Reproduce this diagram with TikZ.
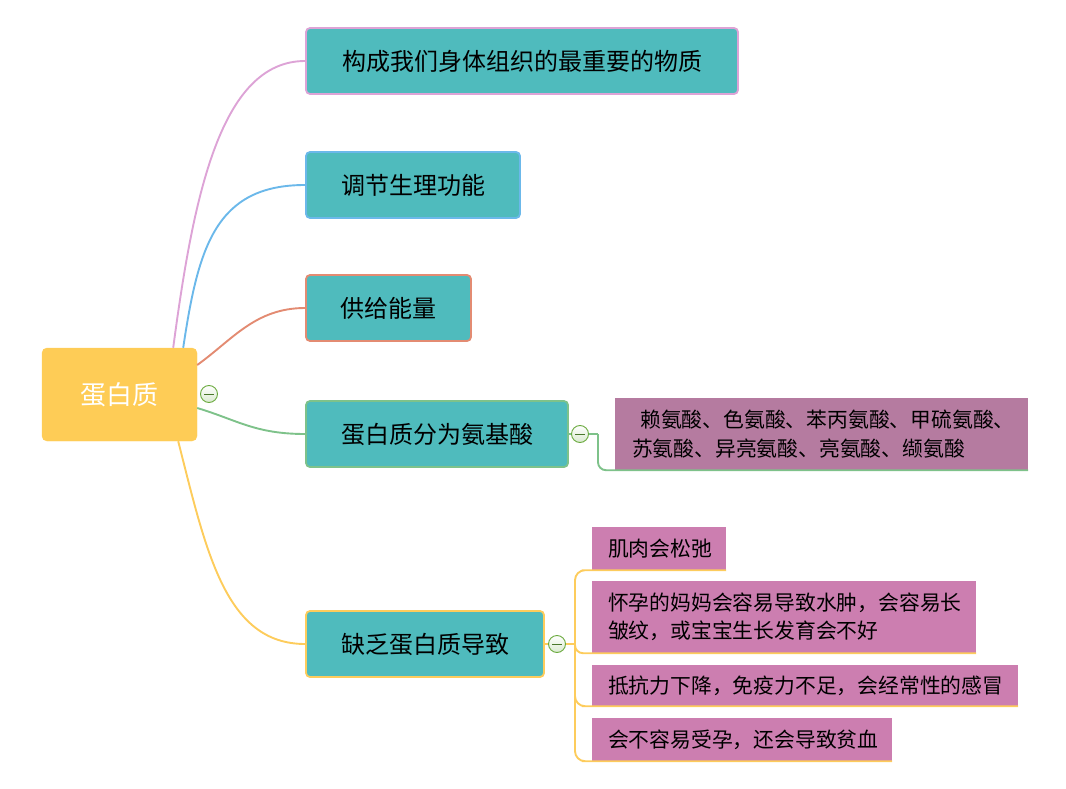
\documentclass[tikz,border=0pt]{standalone}
\usepackage{fontspec}
\newfontfamily\cjk{Noto Sans CJK SC}
\usetikzlibrary{calc}
\definecolor{rootc}{HTML}{FECC56}
\definecolor{teal}{HTML}{4FBBBD}
\definecolor{pinkl}{HTML}{DDA3D6}
\definecolor{bluel}{HTML}{6BB8EA}
\definecolor{salmonl}{HTML}{E38B72}
\definecolor{greenl}{HTML}{7EC28A}
\definecolor{yellowl}{HTML}{FDCC5C}
\definecolor{mauve}{HTML}{B57BA0}
\definecolor{subpink}{HTML}{CC7EB0}
\definecolor{kgreen}{HTML}{6AAA3E}
\tikzset{
  rootbox/.style={fill=rootc, draw=rootc, rounded corners=5pt, text=white, font=\cjk\fontsize{26}{30}\selectfont, minimum width=155pt, minimum height=93pt, inner sep=0pt},
  topic/.style={fill=teal, draw=#1, line width=1.8pt, rounded corners=4pt, text=black, font=\cjk\fontsize{24}{28}\selectfont, minimum height=66pt, inner sep=0pt},
  sub/.style={fill=subpink, draw=none, text=black, font=\cjk\fontsize{20.8}{28}\selectfont, align=left, inner xsep=16pt, inner ysep=0pt},
  conn/.style={line width=1.9pt},
  collapse/.style={circle, draw=kgreen, line width=0.9pt, top color=white, bottom color=kgreen!25, minimum size=17pt, inner sep=0pt,
    path picture={\draw[kgreen!70!black, line width=1pt] ([xshift=3.5pt]path picture bounding box.west) -- ([xshift=-3.5pt]path picture bounding box.east);}},
}
\begin{document}
\begin{tikzpicture}[x=1pt,y=-1pt]
\useasboundingbox (0,0) rectangle (1066,789);

\node[rootbox] (root) at (119.5,394.5) {蛋白质};

\node[topic=pinkl, minimum width=432pt] (t1) at (522,61) {构成我们身体组织的最重要的物质};
\node[topic=bluel, minimum width=214pt] (t2) at (413,185) {调节生理功能};
\node[topic=salmonl, minimum width=165pt] (t3) at (388.5,308) {供给能量};
\node[topic=greenl, minimum width=262pt] (t4) at (437,434) {蛋白质分为氨基酸};
\node[topic=yellowl, minimum width=238pt] (t5) at (425,644) {缺乏蛋白质导致};

\draw[conn, pinkl] ([xshift=-24pt]root.north east) .. controls +(20,-150) and +(-85,0) .. (t1.west);
\draw[conn, bluel] ([xshift=-14pt]root.north east) .. controls +(15,-100) and +(-90,0) .. (t2.west);
\draw[conn, salmonl] ([yshift=29.5pt]root.east) .. controls +(35,-25) and +(-50,0) .. (t3.west);
\draw[conn, greenl] ([yshift=-13.5pt]root.east) .. controls +(40,12) and +(-50,0) .. (t4.west);
\draw[conn, yellowl] ([xshift=-19pt]root.south east) .. controls +(28,110) and +(-80,0) .. (t5.west);

\node[collapse] (k0) at (209,394) {};

% amino acids
\node[fill=mauve, text=black, font=\cjk\fontsize{20.8}{29}\selectfont, align=left, text width=379pt, inner xsep=17pt, inner ysep=0pt, minimum height=72pt] (aa) at (821.5,434)
  {\hspace{0.4em}赖氨酸、色氨酸、苯丙氨酸、甲硫氨酸、\\苏氨酸、异亮氨酸、亮氨酸、缬氨酸};
\coordinate (j4) at (598,434);
\draw[conn, greenl] (t4.east) -- ++(4,0);
\draw[conn, greenl, rounded corners=8pt] (j4) |- (aa.south west) -- (aa.south east);
\node[collapse] (k4) at (580,434) {};
\draw[conn, greenl] (k4.east) -- (j4);

% deficiency
\node[sub, text width=102pt, minimum height=43pt] (b1) at (659,548.5) {肌肉会松弛};
\node[sub, text width=352pt, minimum height=72pt] (b2) at (784,617) {怀孕的妈妈会容易导致水肿，会容易长\\皱纹，或宝宝生长发育会不好};
\node[sub, text width=394pt, minimum height=41pt] (b3) at (805,685.5) {抵抗力下降，免疫力不足，会经常性的感冒};
\node[sub, text width=268pt, minimum height=43pt] (b4) at (742,739.5) {会不容易受孕，还会导致贫血};

\coordinate (j5) at (575,644);
\draw[conn, yellowl, rounded corners=10pt] (j5) |- (b1.south west) -- (b1.south east);
\draw[conn, yellowl, rounded corners=8pt] (j5) |- (b2.south west) -- (b2.south east);
\draw[conn, yellowl, rounded corners=10pt] (j5) |- (b3.south west) -- (b3.south east);
\draw[conn, yellowl, rounded corners=10pt] (j5) |- (b4.south west) -- (b4.south east);
\node[collapse] (k5) at (557,644) {};
\draw[conn, yellowl] (k5.east) -- (j5);
\draw[conn, yellowl] (t5.east) -- (k5.west);
\end{tikzpicture}
\end{document}
